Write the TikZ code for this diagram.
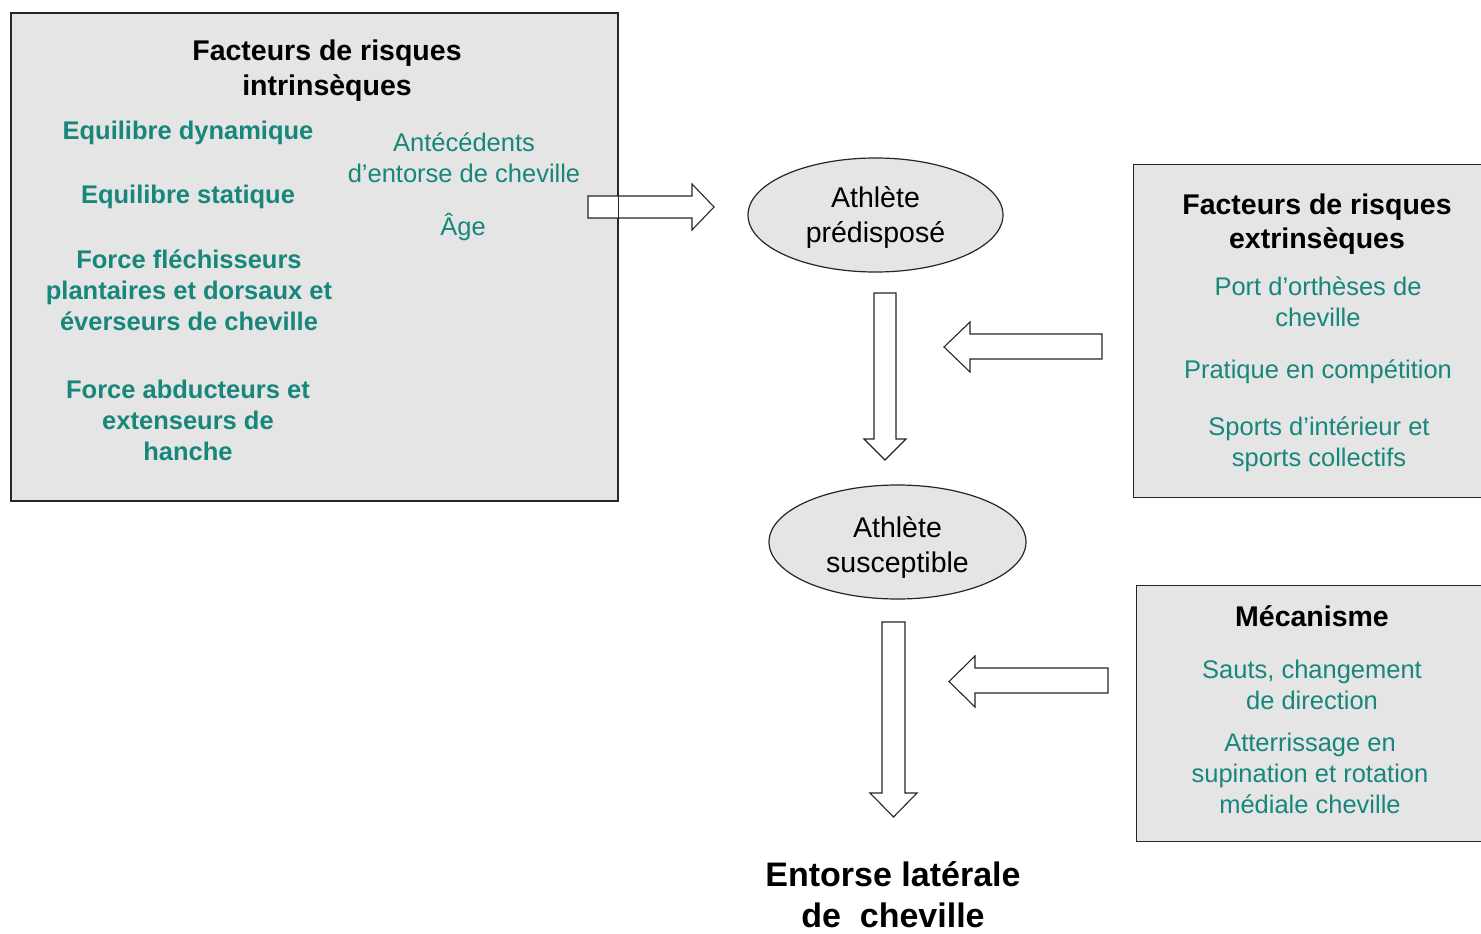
\documentclass[tikz,border=0pt]{standalone}
\usepackage{fontspec}
\setmainfont{Liberation Sans}
\usetikzlibrary{shapes.geometric}
\definecolor{teal1}{HTML}{17867B}
\definecolor{boxgray}{HTML}{E5E5E5}
\tikzset{
  box/.style={fill=boxgray, draw=black!85, line width=1.4pt, inner sep=0pt, anchor=north west},
  frame/.style={draw=black!85, line width=1.4pt},
  ell/.style={ellipse, fill=boxgray, draw=black!85, line width=1.2pt, inner sep=0pt},
  etxt/.style={align=center, font=\fontsize{28.5}{35}\selectfont},
  title/.style={align=center, font=\fontsize{28.5}{34.5}\selectfont\bfseries},
  gb/.style={align=center, text=teal1, font=\fontsize{25.5}{31}\selectfont\bfseries},
  gr/.style={align=center, text=teal1, font=\fontsize{25.5}{31}\selectfont},
  blockarrow/.style={fill=white, draw=black!85, line width=1.1pt, line join=miter},
}
\begin{document}
\begin{tikzpicture}[x=1pt,y=-1pt]
\useasboundingbox[fill=white] (0,0) rectangle (1481,934);
% left box
\node[box, minimum width=606pt, minimum height=487pt] (intr) at (11,13) {};
\node[title] (t1) at (327,70.5) {Facteurs de risques\\intrinsèques};
\node[gb] (eqd) at (188,133.4) {Equilibre dynamique};
\node[gb] (eqs) at (188,196.7) {Equilibre statique};
\node[gb] (ffl) at (189,290) {Force fléchisseurs\\plantaires et dorsaux et\\éverseurs de cheville};
\node[gb] (fab) at (188,420) {Force abducteurs et\\extenseurs de\\hanche};
\node[gr] (ant) at (464,158) {Antécédents\\d’entorse de cheville};
\node[gr] (age) at (463,227) {Âge};
% arrow 1 (right)
\coordinate (a1) at (588,207);
\draw[blockarrow] (a1) ++(0,-11) -- ++(104,0) -- ++(0,-12) -- (714,207) -- (692,230) -- ++(0,-12) -- ++(-104,0) -- cycle;
\draw[frame] (intr.north west) rectangle (intr.south east);
% ellipse 1
\node[ell, minimum width=255pt, minimum height=114pt] (pred) at (875.5,215) {};
\node[etxt] (predt) at (875.5,217.4) {Athlète\\prédisposé};
% down arrow 1
\coordinate (d1) at (885,293);
\draw[blockarrow] (d1) ++(-11,0) -- ++(22,0) -- (896,439) -- (906,439) -- (885,460) -- (864,439) -- (874,439) -- cycle;
% right box 1
\node[box, minimum width=360pt, minimum height=333pt] (extr) at (1133,164) {};
\node[title] (t2) at (1317,224) {Facteurs de risques\\extrinsèques};
\node[gr] (port) at (1318,301.5) {Port d’orthèses de\\cheville};
\node[gr] (prat) at (1318,371.6) {Pratique en compétition};
\node[gr] (spor) at (1319,443.8) {Sports d’intérieur et\\sports collectifs};
% left arrow 1
\coordinate (l1) at (1102,346.5);
\draw[blockarrow] (l1) ++(0,-12.5) -- (970,334) -- (970,322) -- (944,347) -- (970,372) -- (970,359) -- (1102,359) -- cycle;
% ellipse 2
\node[ell, minimum width=257pt, minimum height=114pt] (susc) at (897.5,542) {};
\node[etxt] (susct) at (897.5,547) {Athlète\\susceptible};
% down arrow 2
\coordinate (d2) at (893.5,622);
\draw[blockarrow] (d2) ++(-11.5,0) -- ++(23,0) -- (905,793) -- (917,793) -- (893.5,817) -- (870,793) -- (882,793) -- cycle;
% right box 2
\node[box, minimum width=357pt, minimum height=256pt] (meca) at (1136,585) {};
\node[title] (t3) at (1312,616.3) {Mécanisme};
\node[gr] (saut) at (1312,684.5) {Sauts, changement\\de direction};
\node[gr] (atte) at (1310,773.4) {Atterrissage en\\supination et rotation\\médiale cheville};
% left arrow 2
\coordinate (l2) at (1108,680.5);
\draw[blockarrow] (l2) ++(0,-12.5) -- (975,668) -- (975,656) -- (949,681.5) -- (975,707) -- (975,693) -- (1108,693) -- cycle;
% final
\node[align=center, font=\fontsize{34}{41}\selectfont\bfseries] (ent) at (893,894.8) {Entorse latérale\\de\ \ cheville};
\end{tikzpicture}
\end{document}
